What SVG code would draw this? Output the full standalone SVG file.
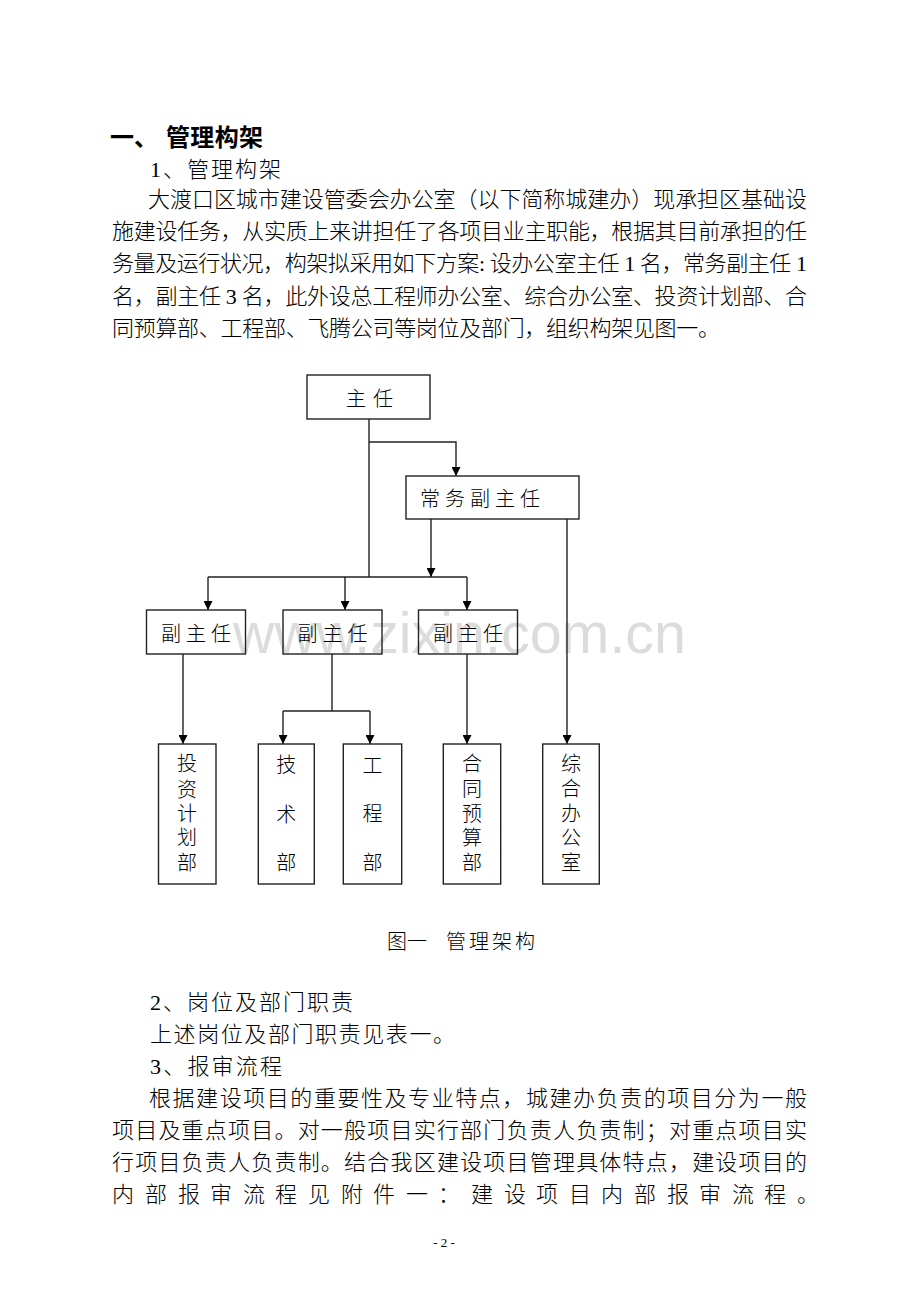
<svg xmlns="http://www.w3.org/2000/svg" width="920" height="1302" viewBox="0 0 920 1302">
<style>
.t{font-family:"Liberation Serif","Noto Sans CJK SC",serif;font-size:22px;font-weight:300;fill:#000}
.h{font-family:"Liberation Sans","Noto Sans CJK SC",sans-serif;font-size:24px;font-weight:bold;fill:#000}
.c{font-family:"Noto Sans CJK SC",sans-serif;font-size:20px;font-weight:300;fill:#000}
.box{fill:none;stroke:#222;stroke-width:1.4}
.ln{fill:none;stroke:#222;stroke-width:1.4}
.wm{font-family:"Liberation Sans",sans-serif;font-size:57px;fill:#dcdcdc}
</style>
<defs>
<marker id="ah" markerUnits="userSpaceOnUse" viewBox="0 0 10 10" refX="10" refY="5" markerWidth="10" markerHeight="9" orient="auto">
<path d="M0,0 L10,5 L0,10 z" fill="#000"/>
</marker>
</defs>
<rect width="920" height="1302" fill="#fff"/>

<g id="text-top">
<text class="h" y="146"><tspan x="110">一、</tspan><tspan x="166" textLength="97" lengthAdjust="spacing">管理构架</tspan></text>
<text class="t" x="150" y="177" textLength="131" lengthAdjust="spacing">1、管理构架</text>
<text class="t" x="148" y="207" textLength="659" lengthAdjust="spacing">大渡口区城市建设管委会办公室（以下简称城建办）现承担区基础设</text>
<text class="t" x="112" y="239" textLength="695" lengthAdjust="spacing">施建设任务，从实质上来讲担任了各项目业主职能，根据其目前承担的任</text>
<text class="t" x="112" y="271" textLength="695" lengthAdjust="spacing">务量及运行状况，构架拟采用如下方案: 设办公室主任 1 名，常务副主任 1</text>
<text class="t" x="112" y="304" textLength="695" lengthAdjust="spacing">名，副主任 3 名，此外设总工程师办公室、综合办公室、投资计划部、合</text>
<text class="t" x="112" y="336" textLength="608" lengthAdjust="spacing">同预算部、工程部、飞腾公司等岗位及部门，组织构架见图一。</text>
</g>

<text class="wm" x="233" y="653" textLength="453" lengthAdjust="spacingAndGlyphs">www.zixin.com.cn</text>

<g id="connectors">
<path class="ln" d="M369,419 V577"/>
<path class="ln" d="M369,442 H456 V476" marker-end="url(#ah)"/>
<path class="ln" d="M208,577 H467"/>
<path class="ln" d="M208,577 V610" marker-end="url(#ah)"/>
<path class="ln" d="M345,577 V610" marker-end="url(#ah)"/>
<path class="ln" d="M467,577 V610" marker-end="url(#ah)"/>
<path class="ln" d="M431,519 V577" marker-end="url(#ah)"/>
<path class="ln" d="M567,519 V744" marker-end="url(#ah)"/>
<path class="ln" d="M183,654 V744" marker-end="url(#ah)"/>
<path class="ln" d="M332,654 V711"/>
<path class="ln" d="M283,711 H370"/>
<path class="ln" d="M283,711 V744" marker-end="url(#ah)"/>
<path class="ln" d="M370,711 V744" marker-end="url(#ah)"/>
<path class="ln" d="M467,654 V744" marker-end="url(#ah)"/>
</g>

<g id="n-zhuren">
<rect class="box" x="307" y="375" width="123" height="44"/>
<text class="c" x="346" y="406" font-size="21" textLength="47" lengthAdjust="spacing">主任</text>
</g>
<g id="n-changwu">
<rect class="box" x="406" y="476" width="173" height="43"/>
<text class="c" x="420" y="506" font-size="21" textLength="120" lengthAdjust="spacing">常务副主任</text>
</g>
<g id="n-fu1">
<rect class="box" x="146.5" y="610" width="99" height="44"/>
<text class="c" x="161" y="641" font-size="21" textLength="70" lengthAdjust="spacing">副主任</text>
</g>
<g id="n-fu2">
<rect class="box" x="283" y="610" width="99" height="44"/>
<text class="c" x="297.5" y="641" font-size="21" textLength="70" lengthAdjust="spacing">副主任</text>
</g>
<g id="n-fu3">
<rect class="box" x="418.5" y="610" width="99" height="44"/>
<text class="c" x="433" y="641" font-size="21" textLength="70" lengthAdjust="spacing">副主任</text>
</g>

<g id="n-touzi">
<rect class="box" x="158.5" y="744" width="57.5" height="140"/>
<text class="c" text-anchor="middle" font-size="21"><tspan x="187" y="771">投</tspan><tspan x="187" y="797">资</tspan><tspan x="187" y="821">计</tspan><tspan x="187" y="845">划</tspan><tspan x="187" y="870">部</tspan></text>
</g>
<g id="n-jishu">
<rect class="box" x="258.3" y="744" width="56" height="140"/>
<text class="c" text-anchor="middle" font-size="21"><tspan x="286.3" y="772">技</tspan><tspan x="286.3" y="822">术</tspan><tspan x="286.3" y="870">部</tspan></text>
</g>
<g id="n-gongcheng">
<rect class="box" x="343.3" y="744" width="58.4" height="140"/>
<text class="c" text-anchor="middle" font-size="21"><tspan x="372.5" y="773">工</tspan><tspan x="372.5" y="821">程</tspan><tspan x="372.5" y="870">部</tspan></text>
</g>
<g id="n-hetong">
<rect class="box" x="443.3" y="744" width="57.4" height="140"/>
<text class="c" text-anchor="middle" font-size="21"><tspan x="472" y="771">合</tspan><tspan x="472" y="796">同</tspan><tspan x="472" y="821">预</tspan><tspan x="472" y="845">算</tspan><tspan x="472" y="870">部</tspan></text>
</g>
<g id="n-zonghe">
<rect class="box" x="542.7" y="744" width="56.6" height="140"/>
<text class="c" text-anchor="middle" font-size="21"><tspan x="571" y="771">综</tspan><tspan x="571" y="796">合</tspan><tspan x="571" y="821">办</tspan><tspan x="571" y="845">公</tspan><tspan x="571" y="870">室</tspan></text>
</g>

<g id="caption">
<text class="c"><tspan x="387" y="949" textLength="40" lengthAdjust="spacing">图一</tspan><tspan x="446" y="949" textLength="89" lengthAdjust="spacing">管理架构</tspan></text>
</g>

<g id="text-bottom">
<text class="t" x="150" y="1010" textLength="203" lengthAdjust="spacing">2、岗位及部门职责</text>
<text class="t" x="150" y="1042" textLength="305" lengthAdjust="spacing">上述岗位及部门职责见表一。</text>
<text class="t" x="150" y="1074" textLength="132" lengthAdjust="spacing">3、报审流程</text>
<text class="t" x="149" y="1106" textLength="658" lengthAdjust="spacing">根据建设项目的重要性及专业特点，城建办负责的项目分为一般</text>
<text class="t" x="112" y="1138" textLength="695" lengthAdjust="spacing">项目及重点项目。对一般项目实行部门负责人负责制；对重点项目实</text>
<text class="t" x="112" y="1170" textLength="695" lengthAdjust="spacing">行项目负责人负责制。结合我区建设项目管理具体特点，建设项目的</text>
<text class="t" y="1202" x="112 145 178 210 243 275 308 341 373 406 438 471 504 536 569 601 634 667 699 732 764 797">内部报审流程见附件一：建设项目内部报审流程。</text>
</g>

<text x="444" y="1247" text-anchor="middle" style="font-family:'Liberation Serif',serif;font-size:13px;fill:#000">- 2 -</text>
</svg>
